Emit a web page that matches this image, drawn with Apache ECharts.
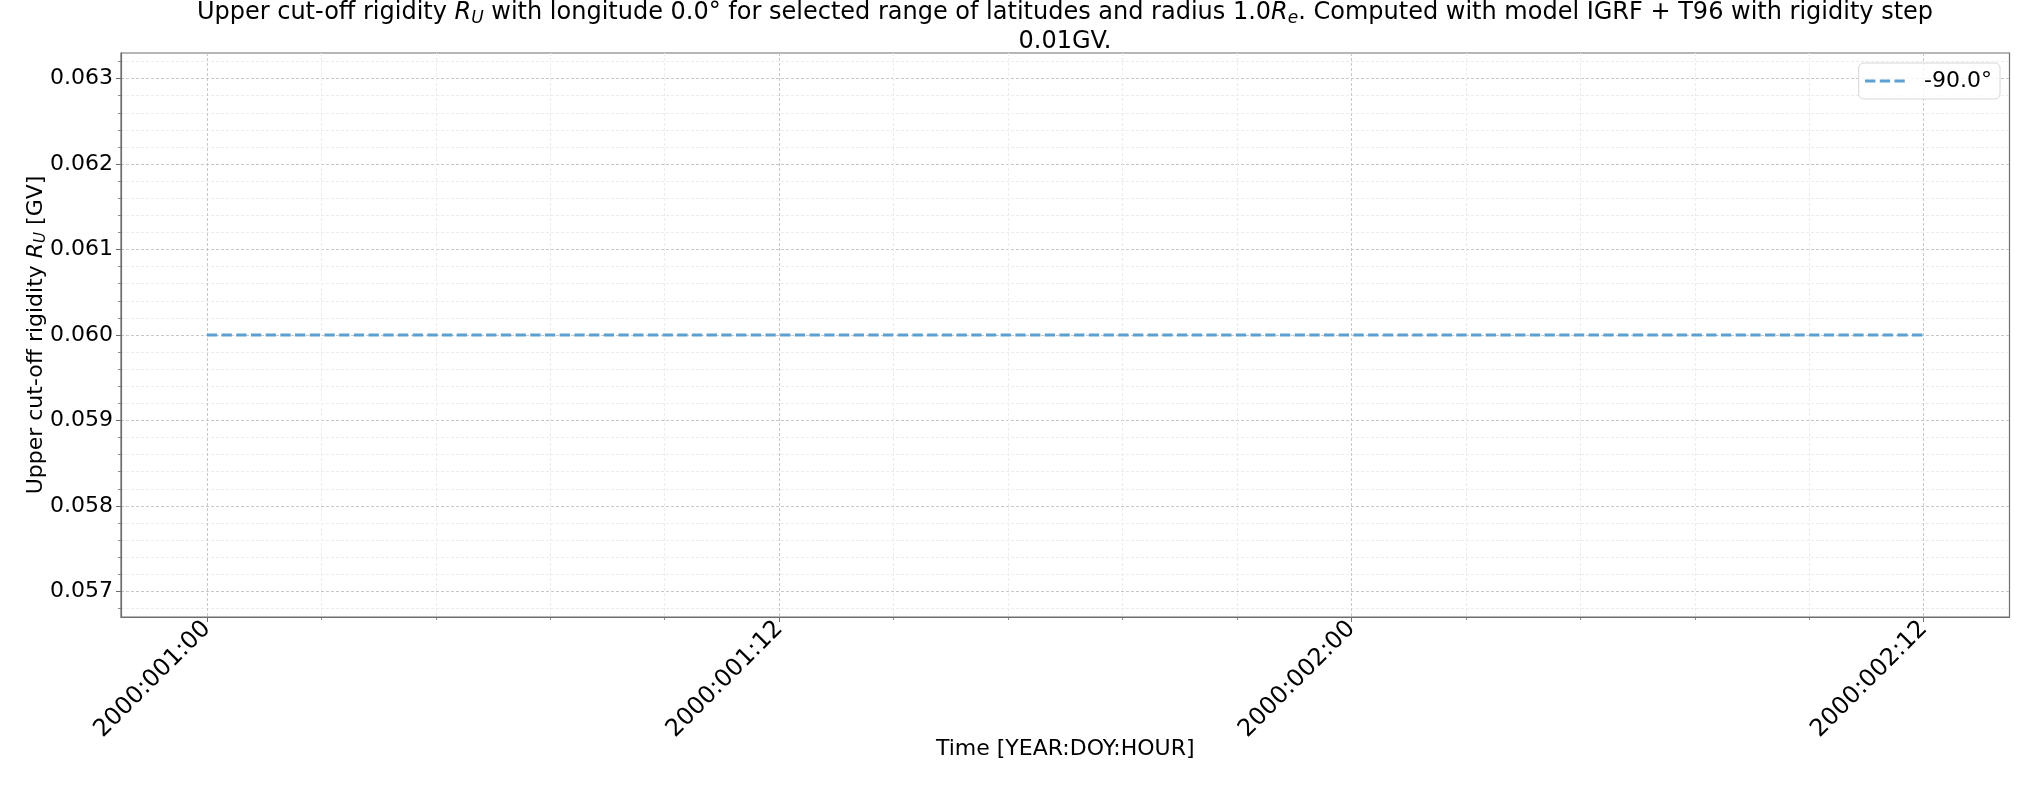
<!DOCTYPE html>
<html>
<head>
<meta charset="utf-8">
<script src="https://cdn.jsdelivr.net/npm/echarts@6/dist/echarts.min.js"></script>
<style>
  html, body { margin: 0; padding: 0; background: #fff; }
  #chart { width: 2035px; height: 785px; }
</style>
</head>
<body>
<div id="chart"></div>
<script>
  // hours since 2000:001:00
  const hours = [0, 1, 2, 3, 4, 5, 6, 7, 8, 9, 10, 11, 12, 13, 14, 15, 16, 17, 18,
    19, 20, 21, 22, 23, 24, 25, 26, 27, 28, 29, 30, 31, 32, 33, 34, 35, 36];
  const rigidity = [0.060, 0.060, 0.060, 0.060, 0.060, 0.060, 0.060, 0.060, 0.060, 0.060,
    0.060, 0.060, 0.060, 0.060, 0.060, 0.060, 0.060, 0.060, 0.060, 0.060,
    0.060, 0.060, 0.060, 0.060, 0.060, 0.060, 0.060, 0.060, 0.060, 0.060,
    0.060, 0.060, 0.060, 0.060, 0.060, 0.060, 0.060];
  const seriesName = '-90.0°';

  const xMajor = [0, 12, 24, 36];
  const xMajorLabels = ['2000:001:00', '2000:001:12', '2000:002:00', '2000:002:12'];
  const xMinor = [2.4, 4.8, 7.2, 9.6, 14.4, 16.8, 19.2, 21.6, 26.4, 28.8, 31.2, 33.6];
  const yMajor = [0.057, 0.058, 0.059, 0.060, 0.061, 0.062, 0.063];
  const yMinor = [0.0568, 0.0572, 0.0574, 0.0576, 0.0578, 0.0582, 0.0584, 0.0586, 0.0588,
    0.0592, 0.0594, 0.0596, 0.0598, 0.0602, 0.0604, 0.0606, 0.0608,
    0.0612, 0.0614, 0.0616, 0.0618, 0.0622, 0.0624, 0.0626, 0.0628, 0.0632];

  const xMin = -1.8, xMax = 37.8;
  const yMin = 0.0567, yMax = 0.0633;

  const font = 'DejaVu Sans';
  const axisColor = '#6e6e6e';
  const lineColor = '#5c9fd1';

  const chart = echarts.init(document.getElementById('chart'));

  const it = (size) => ({fontFamily: font, fontSize: size, fontStyle: 'italic', color: '#000'});
  const sub = (size, pad) => ({fontFamily: font, fontSize: size, fontStyle: 'italic', color: '#000', padding: [pad, 0, 0, 0]});

  const option = {
    animation: false,
    backgroundColor: '#fff',
    title: [
      {
        text: 'Upper cut-off rigidity {i|R}{s|U} with longitude 0.0° for selected range of latitudes and radius 1.0{i|R}{s|e}. Computed with model IGRF + T96 with rigidity step',
        left: 1060,
        top: -7,
        textAlign: 'center',
        textStyle: {
          fontFamily: font, fontSize: 24, fontWeight: 'normal', color: '#000', lineHeight: 30,
          rich: {i: it(24), s: sub(17, 11)}
        }
      },
      {
        text: '0.01GV.',
        left: 1060,
        top: 22,
        textAlign: 'center',
        textStyle: {fontFamily: font, fontSize: 24, fontWeight: 'normal', color: '#000', lineHeight: 30}
      }
    ],
    legend: {
      data: [seriesName],
      right: 35,
      top: 63,
      padding: [7, 8, 7, 5],
      itemWidth: 40,
      itemHeight: 14,
      backgroundColor: 'rgba(255,255,255,0.8)',
      borderColor: '#d6d6d6',
      borderWidth: 1,
      borderRadius: 5,
      itemStyle: {color: 'rgba(0,0,0,0)', borderWidth: 0, opacity: 0},
      lineStyle: {color: lineColor, width: 2.8, type: [10.3, 4.4]},
      textStyle: {fontFamily: font, fontSize: 22, color: '#000', padding: [0, 0, 0, 14]}
    },
    grid: {
      left: 121, top: 53, right: 25.5, bottom: 168,
      show: true, borderColor: axisColor, borderWidth: 1.2,
      containLabel: false
    },
    xAxis: [
      {
        type: 'value',
        min: xMin, max: xMax,
        position: 'bottom',
        name: 'Time [YEAR:DOY:HOUR]',
        nameLocation: 'middle',
        nameGap: 121,
        nameMoveOverlap: false,
        nameTextStyle: {fontFamily: font, fontSize: 22, color: '#000'},
        axisLine: {onZero: false, lineStyle: {color: axisColor, width: 1.2}},
        axisTick: {customValues: xMajor, length: 5, lineStyle: {color: axisColor, width: 1}},
        axisLabel: {
          customValues: xMajor,
          rotate: 45,
          margin: 8,
          fontFamily: font, fontSize: 24, color: '#000',
          formatter: (v) => xMajorLabels[xMajor.indexOf(Math.round(v))]
        },
        splitLine: {show: true, lineStyle: {color: '#c8c8c8', width: 1, type: [3, 2]}}
      },
      {
        type: 'value',
        min: xMin, max: xMax,
        position: 'bottom',
        axisLine: {show: false, onZero: false},
        axisTick: {customValues: xMinor, length: 3, lineStyle: {color: axisColor, width: 0.8}},
        axisLabel: {show: false},
        splitLine: {show: true, lineStyle: {color: '#ececec', width: 1, type: [3, 2]}}
      }
    ],
    yAxis: [
      {
        type: 'value',
        min: yMin, max: yMax,
        position: 'left',
        name: 'Upper cut-off rigidity {i|R}{s|U} [GV]',
        nameLocation: 'middle',
        nameRotate: 90,
        nameGap: 72,
        nameMoveOverlap: false,
        nameTextStyle: {
          fontFamily: font, fontSize: 22, color: '#000',
          rich: {i: it(22), s: sub(15, 10)}
        },
        axisLine: {onZero: false, lineStyle: {color: axisColor, width: 1.2}},
        axisTick: {customValues: yMajor, length: 5, lineStyle: {color: axisColor, width: 1}},
        axisLabel: {
          customValues: yMajor,
          margin: 8,
          fontFamily: font, fontSize: 22, color: '#000',
          formatter: (v) => v.toFixed(3)
        },
        splitLine: {show: true, lineStyle: {color: '#c8c8c8', width: 1, type: [3, 2]}}
      },
      {
        type: 'value',
        min: yMin, max: yMax,
        position: 'left',
        axisLine: {show: false, onZero: false},
        axisTick: {customValues: yMinor, length: 3, lineStyle: {color: axisColor, width: 0.8}},
        axisLabel: {show: false},
        splitLine: {show: true, lineStyle: {color: '#ececec', width: 1, type: [3, 2]}}
      }
    ],
    series: [
      {
        name: seriesName,
        type: 'line',
        xAxisIndex: 0,
        yAxisIndex: 0,
        data: hours.map((h, i) => [h, rigidity[i]]),
        symbol: 'none',
        z: 5,
        lineStyle: {color: lineColor, width: 2.8, type: [10.3, 4.4]},
        itemStyle: {color: lineColor}
      }
    ]
  };

  chart.setOption(option);
</script>
</body>
</html>
